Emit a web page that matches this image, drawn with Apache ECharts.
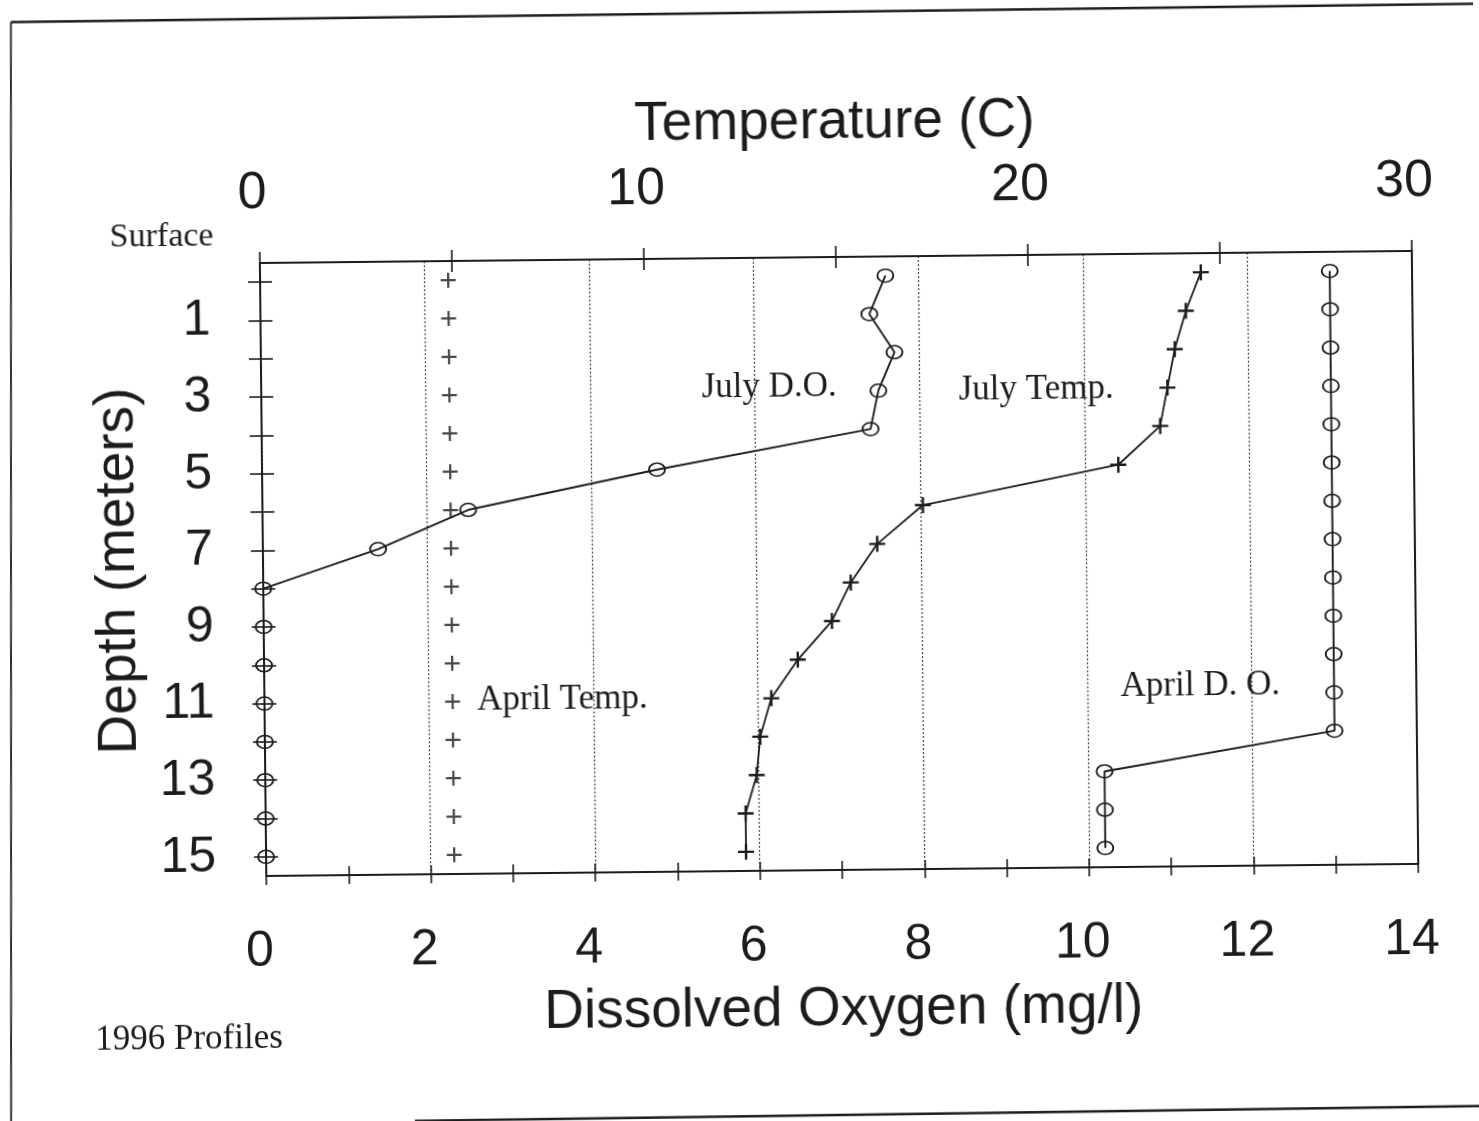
<!DOCTYPE html>
<html>
<head>
<meta charset="utf-8">
<title>1996 Profiles</title>
<script src="https://cdn.jsdelivr.net/npm/echarts@6/dist/echarts.min.js"></script>
<style>
  html, body { margin: 0; padding: 0; background: #fff; overflow: hidden; }
  #chart {
    width: 1479px; height: 1121px; background: #fff;
    transform: rotate(-0.6deg); transform-origin: 739.5px 560.5px;
  }
</style>
</head>
<body>
<div id="chart"></div>
<script>
// Sampling depths (m) and the four 1996 profiles
const depths     = [0, 1, 2, 3, 4, 5, 6, 7, 8, 9, 10, 11, 12, 13, 14, 15];
const aprilDO    = [13.0, 13.0, 13.0, 13.0, 13.0, 13.0, 13.0, 13.0, 13.0, 13.0, 13.0, 13.0, 13.0, 10.2, 10.2, 10.2];
const julyDO     = [7.6, 7.4, 7.7, 7.5, 7.4, 4.8, 2.5, 1.4, 0, 0, 0, 0, 0, 0, 0, 0];
const aprilTemp  = [4.9, 4.9, 4.9, 4.9, 4.9, 4.9, 4.9, 4.9, 4.9, 4.9, 4.9, 4.9, 4.9, 4.9, 4.9, 4.9];
const julyTemp   = [24.5, 24.1, 23.8, 23.6, 23.4, 22.3, 17.2, 16.0, 15.3, 14.8, 13.9, 13.2, 12.9, 12.8, 12.5, 12.5];

// Axis ticks
const depthTicks  = [0, 1, 2, 3, 4, 5, 6, 7, 8, 9, 10, 11, 12, 13, 14, 15];
const depthLabels = [1, 3, 5, 7, 9, 11, 13, 15];

const INK = '#1c1c1c';
const SANS = 'Liberation Sans';
const SERIF = 'Liberation Serif';
const PLUS = 'path://M0,4.25H10V5.75H0Z M4.25,0H5.75V10H4.25Z';

const pairs = (xs) => depths.map((d, i) => [xs[i], d]);

const gridBox = { left: 263, top: 258, right: 64, bottom: 250 };

const circleStyle = { color: 'rgba(0,0,0,0)', borderColor: INK, borderWidth: 1.7 };
const plusStyle = { color: INK, borderWidth: 0 };
const hiddenLine = { show: false, onZero: false };

function labelBox(text, cx, cy, x0, x1, y0, y1) {
  return {
    type: 'group', x: cx, y: cy, z: 10,
    children: [
      { type: 'rect', shape: { x: x0, y: y0, width: x1 - x0, height: y1 - y0 }, style: { fill: '#fff' } },
      { type: 'text', style: { text: text, fontFamily: SERIF, fontSize: 35, fill: INK, align: 'center', verticalAlign: 'middle' } }
    ]
  };
}

const chart = echarts.init(document.getElementById('chart'), null, { renderer: 'canvas' });

chart.setOption({
  animation: false,
  backgroundColor: '#fff',
  grid: [
    Object.assign({}, gridBox),
    Object.assign({}, gridBox),
    Object.assign({}, gridBox)
  ],
  xAxis: [
    { // dissolved oxygen (bottom)
      gridIndex: 0, type: 'value', position: 'bottom', min: 0, max: 14, interval: 1,
      axisLine: { show: true, onZero: false, lineStyle: { color: INK, width: 2 } },
      axisTick: { show: true, inside: false, length: 9, lineStyle: { color: INK, width: 1.6 } },
      axisLabel: { formatter: (v) => (v % 2 === 0 ? String(v) : ''), fontFamily: SANS, fontSize: 50, color: INK, margin: 51, padding: [0, 14, 0, 0] },
      splitLine: { show: false },
      name: 'Dissolved Oxygen (mg/l)', nameLocation: 'middle', nameGap: 112,
      nameTextStyle: { fontFamily: SANS, fontSize: 55, color: INK }
    },
    { // temperature (top)
      gridIndex: 0, type: 'value', position: 'top', min: 0, max: 30, interval: 5,
      axisLine: { show: true, onZero: false, lineStyle: { color: INK, width: 2 } },
      axisTick: { show: true, inside: false, length: 11, lineStyle: { color: INK, width: 1.6 } },
      axisLabel: { formatter: (v) => (v % 10 === 0 ? String(v) : ''), fontFamily: SANS, fontSize: 52, color: INK, margin: 43, padding: [0, 14, 0, 0] },
      splitLine: { show: false },
      name: 'Temperature (C)', nameLocation: 'middle', nameGap: 107,
      nameTextStyle: { fontFamily: SANS, fontSize: 55, color: INK }
    },
    { // inner half of the oxygen ticks
      gridIndex: 1, type: 'value', position: 'bottom', min: 0, max: 14, interval: 1,
      axisLine: hiddenLine, axisLabel: { show: false }, splitLine: { show: false },
      axisTick: { show: true, inside: true, length: 9, lineStyle: { color: INK, width: 1.6 } }
    },
    { // inner half of the temperature ticks
      gridIndex: 1, type: 'value', position: 'top', min: 0, max: 30, interval: 5,
      axisLine: hiddenLine, axisLabel: { show: false }, splitLine: { show: false },
      axisTick: { show: true, inside: true, length: 11, lineStyle: { color: INK, width: 1.6 } }
    },
    { // dotted oxygen gridlines
      gridIndex: 2, type: 'value', position: 'bottom', min: 0, max: 14, interval: 2,
      axisLine: hiddenLine, axisTick: { show: false }, axisLabel: { show: false },
      splitLine: { show: true, lineStyle: { color: '#444', width: 1.2, type: [2, 2] } }
    }
  ],
  yAxis: [
    { // depth
      gridIndex: 0, type: 'value', position: 'left', inverse: true, min: -0.5, max: 15.5,
      axisLine: { show: true, onZero: false, lineStyle: { color: INK, width: 2 } },
      axisTick: { show: true, inside: false, length: 12, customValues: depthTicks, lineStyle: { color: INK, width: 1.6 } },
      axisLabel: { customValues: depthLabels, fontFamily: SANS, fontSize: 50, color: INK, margin: 50 },
      splitLine: { show: false },
      name: 'Depth (meters)', nameLocation: 'middle', nameGap: 101, nameRotate: 90,
      nameTextStyle: { fontFamily: SANS, fontSize: 55, color: INK }
    },
    { // inner half of the depth ticks
      gridIndex: 1, type: 'value', position: 'left', inverse: true, min: -0.5, max: 15.5,
      axisLine: hiddenLine, axisLabel: { show: false }, splitLine: { show: false },
      axisTick: { show: true, inside: true, length: 12, customValues: depthTicks, lineStyle: { color: INK, width: 1.6 } }
    },
    { // right frame line
      gridIndex: 2, type: 'value', position: 'right', min: 0, max: 1,
      axisLine: { show: true, onZero: false, lineStyle: { color: INK, width: 2 } },
      axisTick: { show: false }, axisLabel: { show: false }, splitLine: { show: false }
    }
  ],
  series: [
    {
      name: 'April D. O.', type: 'line', xAxisIndex: 0, yAxisIndex: 0, clip: false, z: 3,
      data: pairs(aprilDO), symbol: 'circle', symbolSize: [16, 13],
      itemStyle: circleStyle, lineStyle: { color: INK, width: 1.9 }
    },
    {
      name: 'July D.O.', type: 'line', xAxisIndex: 0, yAxisIndex: 0, clip: false, z: 3,
      data: pairs(julyDO), symbol: 'circle', symbolSize: [16, 13],
      itemStyle: circleStyle, lineStyle: { color: INK, width: 1.9 }
    },
    {
      name: 'July Temp.', type: 'line', xAxisIndex: 1, yAxisIndex: 0, clip: false, z: 3,
      data: pairs(julyTemp), symbol: PLUS, symbolSize: 16,
      itemStyle: plusStyle, lineStyle: { color: INK, width: 1.8 }
    },
    {
      name: 'April Temp.', type: 'scatter', xAxisIndex: 1, yAxisIndex: 0, clip: false, z: 3,
      data: pairs(aprilTemp), symbol: PLUS, symbolSize: 15,
      itemStyle: plusStyle
    }
  ],
  graphic: [
    // sheet edges
    { type: 'line', z: 1, shape: { x1: 16.6, y1: 14.4, x2: 1490, y2: 11.6 }, style: { stroke: INK, lineWidth: 2.5 } },
    { type: 'line', z: 1, shape: { x1: 16.6, y1: 14.4, x2: 5.1, y2: 1130 }, style: { stroke: INK, lineWidth: 1.8 } },
    { type: 'line', z: 1, shape: { x1: 409, y1: 1117.6, x2: 1490, y2: 1113.6 }, style: { stroke: INK, lineWidth: 2.5 } },
    // curve labels on white boxes
    labelBox('July D.O.', 771, 388, -81, 79, -25, 47),
    labelBox('July Temp.', 1038, 393, -93, 87, -27, 45),
    labelBox('April Temp.', 561, 698, -95, 99, -27, 43),
    labelBox('April D. O.', 1199, 691, -89, 91, -28, 45),
    // corner notes
    { type: 'text', x: 165, y: 231, z: 10, style: { text: 'Surface', fontFamily: SERIF, fontSize: 34, fill: INK, align: 'center', verticalAlign: 'middle' } },
    { type: 'text', x: 184, y: 1034, z: 10, style: { text: '1996 Profiles', fontFamily: SERIF, fontSize: 35, fill: INK, align: 'center', verticalAlign: 'middle' } }
  ]
});
</script>
</body>
</html>
